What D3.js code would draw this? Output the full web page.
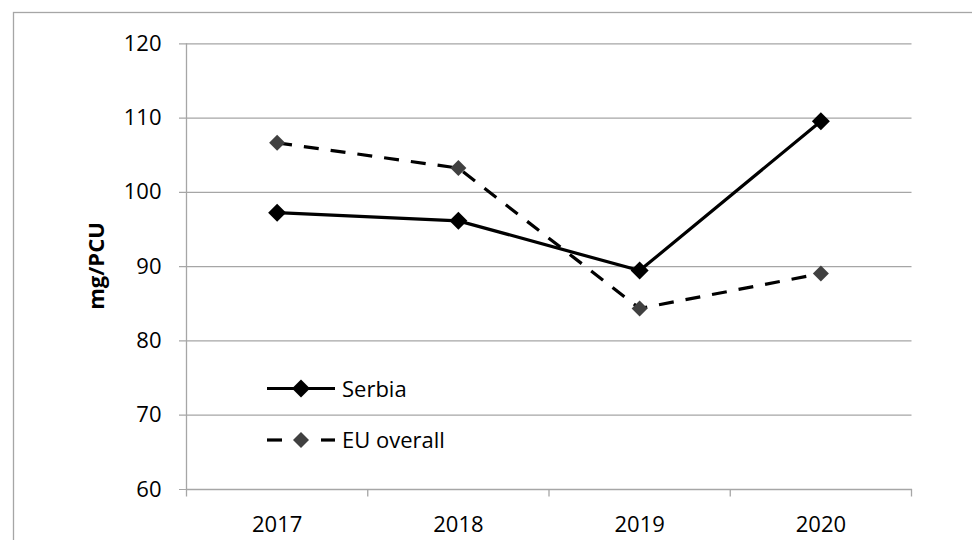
<!DOCTYPE html>
<html><head><meta charset="utf-8">
<script src="https://cdn.jsdelivr.net/npm/d3@7"></script>
<style>body{margin:0;background:#fff}svg{display:block}text{font-family:"Open Sans",sans-serif}</style>
</head><body><svg id="c" width="972" height="540"></svg>
<script>
const categories = ["2017","2018","2019","2020"];
const serbia = [97.2, 96.1, 89.4, 109.5];
const euOverall = [106.6, 103.2, 84.3, 89.0];
const yTicks = [60,70,80,90,100,110,120];
const seriesNames = ["Serbia","EU overall"];

const svg = d3.select("#c");
const L = 186.5, R = 911.5, T = 43.3, B = 489;
const x = d3.scaleBand().domain(categories).range([L, R]);
const y = d3.scaleLinear().domain([60,120]).range([B, T]);
const grid = "#a6a6a6";

// outer frame
svg.append("rect").attr("x",13.5).attr("y",12.5).attr("width",1000).attr("height",600)
  .attr("fill","none").attr("stroke",grid).attr("stroke-width",1.3);

// gridlines + y axis
const ya = svg.append("g").attr("transform",`translate(${L},0)`)
  .call(d3.axisLeft(y).tickValues(yTicks).tickSize(-(R-L)).tickPadding(25).tickFormat(d3.format("d")));
ya.select(".domain").remove();
ya.selectAll(".tick line").attr("stroke",grid).attr("stroke-width",1.2).attr("x1",-7.5);
ya.selectAll(".tick text").attr("font-size",22).attr("fill","#000");
svg.append("line").attr("x1",L).attr("x2",L).attr("y1",T).attr("y2",B).attr("stroke",grid).attr("stroke-width",1.3);

// x axis
const xa = svg.append("g").attr("transform",`translate(0,${B})`)
  .call(d3.axisBottom(x).tickSize(0).tickPadding(27));
xa.select(".domain").attr("stroke",grid).attr("stroke-width",1.3);
xa.selectAll(".tick text").attr("font-size",22).attr("fill","#000");
const bounds = categories.map(c => x(c)).concat([x(categories[categories.length-1]) + x.bandwidth()]);
svg.append("g").selectAll("line").data(bounds).join("line")
  .attr("x1",d=>d).attr("x2",d=>d).attr("y1",B).attr("y2",B+7.5)
  .attr("stroke",grid).attr("stroke-width",1.3);

// y title
svg.append("text").attr("transform",`translate(104,266) rotate(-90)`)
  .attr("text-anchor","middle").attr("font-size",22).attr("font-weight","bold").text("mg/PCU");

const cx = c => x(c) + x.bandwidth()/2;
const line = d3.line().x((d,i)=>cx(categories[i])).y(d=>y(d));
const diamond = (g, px, py, s, fill) => g.append("path")
  .attr("d",`M${px},${py-s}L${px+s},${py}L${px},${py+s}L${px-s},${py}Z`).attr("fill",fill);

// EU overall
svg.append("path").datum(euOverall).attr("d",line).attr("fill","none")
  .attr("stroke","#000").attr("stroke-width",3.2).attr("stroke-dasharray","15,12");
const ge = svg.append("g");
euOverall.forEach((v,i)=>diamond(ge, cx(categories[i]), y(v), 8, "#404040"));

// Serbia
svg.append("path").datum(serbia).attr("d",line).attr("fill","none")
  .attr("stroke","#000").attr("stroke-width",3.2);
const gs = svg.append("g");
serbia.forEach((v,i)=>diamond(gs, cx(categories[i]), y(v), 9, "#000"));

// legend
const lg = svg.append("g");
lg.append("line").attr("x1",267).attr("x2",335).attr("y1",388.5).attr("y2",388.5).attr("stroke","#000").attr("stroke-width",3.2);
diamond(lg, 301, 388.5, 9, "#000");
lg.append("text").attr("x",342).attr("y",396.5).attr("font-size",22).text(seriesNames[0]);
lg.append("line").attr("x1",267).attr("x2",282).attr("y1",440).attr("y2",440).attr("stroke","#000").attr("stroke-width",3.2);
lg.append("line").attr("x1",321).attr("x2",335).attr("y1",440).attr("y2",440).attr("stroke","#000").attr("stroke-width",3.2);
diamond(lg, 301, 440, 8, "#404040");
lg.append("text").attr("x",342).attr("y",448).attr("font-size",22).text(seriesNames[1]);
</script></body></html>
